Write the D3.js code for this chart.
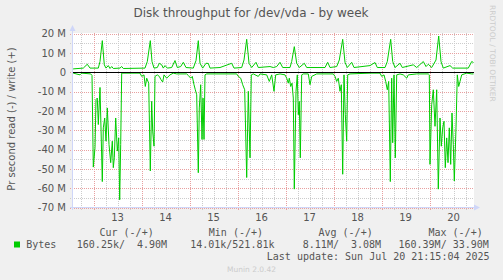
<!DOCTYPE html>
<html>
<head>
<meta charset="utf-8">
<script src="https://cdn.jsdelivr.net/npm/d3@7"></script>
<style>
    body { margin: 0; background: #f0f0f0; }
    svg { display: block; }
    text { font-family: "DejaVu Sans", sans-serif; fill: #555; }
    .mono { font-family: "DejaVu Sans Mono", monospace; font-size: 10px; white-space: pre; }
</style>
</head>
<body>
<svg id="chart" width="503" height="280"></svg>
<script>
// hours since Jul 12 2025 00:00, values in MB/s
const writeHours = [13.5, 13.9, 18.9, 20.9, 22.25, 26.4, 27.25, 28.4, 29.4, 30.25, 31.4, 32.25, 33.1, 33.9,
    37.25, 38.1, 38.9, 49.75, 50.9, 52.4, 53.25, 54.25, 55.9, 56.9, 58.1, 58.9, 59.75, 60.9, 63.1, 64.75,
    65.9, 67.6, 68.9, 70.25, 73.9, 75.25, 76.4, 77.25, 78.6, 80.25, 81.4, 82.25, 87.25, 93.1, 94.25, 98.1,
    99.25, 100.6, 101.75, 103.1, 105.25, 106.4, 112.25, 113.9, 115.6, 117.25, 118.6, 122.25, 123.1, 124.4,
    125.6, 126.9, 129.4, 130.6, 139.75, 141.1, 142.25, 145.6, 146.9, 148.6, 149.75, 150.9, 153.1, 154.25,
    162.25, 164.75, 165.9, 169.75, 170.9, 172.6, 173.6, 174.75, 177.25, 178.4, 183.9, 185.6, 188.9, 190.25,
    191.4, 193.1, 195.25, 196.6, 197.75, 198.9, 202.25, 203.6, 211.4, 213.1, 214];
const writeValues = [1.8, 1.7, 2.1, 4.1, 2.1, 2.1, 5.5, 16.3, 3.8, 2.1, 3.4, 1.9, 2.9, 1.9,
    2.1, 2.9, 1.9, 2.1, 5.5, 16.3, 5.5, 2.1, 2.4, 4.6, 3.8, 2.1, 3.4, 2.1, 2.4, 6.0,
    2.4, 2.9, 5.1, 2.4, 2.1, 6.0, 16.3, 4.6, 2.1, 4.6, 4.5, 2.1, 2.4, 4.6, 2.1, 2.4,
    6.3, 17.0, 4.6, 2.4, 5.1, 2.4, 2.9, 2.4, 2.9, 5.1, 2.4, 2.4, 5.5, 13.2,
    4.6, 2.4, 4.6, 2.4, 2.4, 5.1, 2.4, 2.9, 6.3, 17.0, 5.1, 2.4, 5.1, 2.4,
    3.4, 5.0, 2.4, 2.4, 5.5, 17.0, 5.5, 2.4, 4.6, 2.4, 3.8, 2.4, 5.5, 2.9,
    4.1, 2.4, 6.3, 18.7, 5.5, 2.1, 3.4, 2.1, 2.1, 5.5, 5.0];

const readHours = [13.5, 13.9, 17.25, 18.1, 22.6, 23.25, 23.9, 24.75, 25.25, 25.9, 26.4, 27.25, 28.4, 28.9,
    29.6, 30.25, 30.9, 31.75, 32.6, 33.4, 33.9, 34.4, 35.1, 35.9, 36.6, 37.1, 37.6, 38.1, 47.25, 48.1,
    49.25, 49.9, 50.6, 51.6, 52.4, 53.1, 53.6, 54.25, 54.75, 55.9, 56.9, 57.75, 58.6, 59.25, 60.6, 62.25,
    63.9, 65.6, 70.6, 71.4, 72.6, 73.4, 74.25, 74.9, 75.6, 76.4, 76.9, 77.6, 78.25, 78.75, 79.25, 79.75,
    80.6, 95.6, 96.4, 97.6, 98.6, 99.6, 100.6, 101.4, 102.25, 102.9, 103.9, 106.4, 107.25, 110.6, 111.9,
    113.1, 114.25, 115.1, 117.25, 119.75, 120.6, 121.4, 121.9, 122.6, 123.25, 123.9, 124.4, 125.25, 125.9,
    126.4, 126.9, 127.4, 128.1, 128.9, 131.4, 132.25, 133.1, 135.6, 143.9, 144.75, 145.6, 146.4, 147.25,
    147.9, 148.6, 149.25, 149.9, 150.6, 151.1, 152.25, 162.25, 167.25, 168.1, 169.25, 170.1, 170.9, 171.6,
    172.4, 173.1, 173.6, 174.25, 174.9, 175.6, 177.25, 178.9, 180.6, 181.4, 185.6, 191.4, 191.9, 192.25,
    193.1, 193.9, 194.75, 195.6, 196.4, 197.25, 197.9, 198.6, 199.25, 199.9, 200.6, 201.25, 201.9, 202.6,
    203.25, 203.9, 204.4, 205.25, 205.9, 206.6, 207.25, 208.1, 210.6, 213.1, 214];
const readValues = [0.5, 0.5, 1.4, 0.5, 0.9, 1.7, 49.1, 39.1, 14.2, 13.4, 27.1, 7.9, 56.6, 28.8,
    23.7, 35.7, 18.5, 37.4, 46.8, 35.7, 49.4, 44.3, 23.7, 40.8, 34.0, 66.0, 37.4, 0.5, 0.5, 2.2,
    1.4, 7.4, 3.1, 5.7, 51.1, 15.1, 30.5, 38.3, 2.2, 1.4, 2.2, 3.9, 5.1, 1.4, 3.1, 1.4,
    0.5, 0.9, 0.9, 1.7, 3.1, 2.2, 6.5, 9.1, 11.7, 52.0, 18.5, 6.5, 34.8, 13.4, 34.8, 1.4,
    0.9, 0.9, 2.2, 3.1, 6.5, 9.1, 54.5, 9.9, 44.3, 1.4, 0.9, 2.2, 0.9, 1.4, 4.8,
    1.4, 9.9, 1.4, 0.9, 1.4, 3.1, 5.7, 3.1, 7.4, 5.7, 13.4, 60.5, 9.9, 1.4,
    22.0, 15.1, 44.3, 1.4, 0.9, 0.9, 6.5, 2.2, 0.9, 0.9, 2.2, 4.8, 3.1, 9.9,
    6.5, 52.8, 1.4, 22.0, 35.7, 1.4, 0.9, 0.5, 0.5, 2.2, 1.4, 4.8, 9.1, 4.8,
    56.6, 3.1, 36.5, 1.4, 44.3, 1.4, 0.9, 1.4, 3.1, 1.4, 0.9, 0.9, 1.4, 47.7,
    16.8, 9.1, 28.0, 9.1, 60.5, 23.7, 38.3, 28.8, 25.4, 49.4, 34.0, 46.8, 28.8, 47.7,
    21.1, 37.4, 56.3, 28.8, 1.4, 7.4, 4.8, 1.4, 0.5, 0.9, 0.9];

const yTicks = [20, 10, 0, -10, -20, -30, -40, -50, -60, -70];
const legendHeaders = ["Cur (-/+)", "Min (-/+)", "Avg (-/+)", "Max (-/+)"];
const legendValues = ["160.25k/  4.90M", "14.01k/521.81k", "8.11M/  3.08M", "160.39M/ 33.90M"];

const svg = d3.select("#chart");
const day0 = new Date(2025, 6, 12).getTime();
const toDate = h => new Date(day0 + h * 3600e3);

const start = toDate(13.5);
const end = toDate(214);

const x = d3.scaleTime().domain([start, end]).range([72.5, 473.5]);
const y = d3.scaleLinear().domain([-70, 20]).range([207.5, 33.5]);

// canvas
svg.append("rect")
    .attr("x", 72).attr("y", 33)
    .attr("width", 402).attr("height", 175)
    .attr("fill", "#fff");

// minor grid
const minorY = d3.range(-65, 20, 10);
svg.selectAll(".minorY")
    .data(minorY)
    .enter()
    .append("line")
    .attr("x1", 70).attr("x2", 473)
    .attr("y1", d => Math.round(y(d)) + 0.5)
    .attr("y2", d => Math.round(y(d)) + 0.5)
    .attr("stroke", "#ccc")
    .attr("stroke-dasharray", "1,1");

const minorX = d3.timeHour.every(6).range(start, end).filter(d => d.getHours() !== 0);
svg.selectAll(".minorX")
    .data(minorX)
    .enter()
    .append("line")
    .attr("x1", d => Math.round(x(d)) + 0.5)
    .attr("x2", d => Math.round(x(d)) + 0.5)
    .attr("y1", 33).attr("y2", 210)
    .attr("stroke", "#ccc")
    .attr("stroke-dasharray", "1,1");

// major grid
svg.selectAll(".majorY")
    .data(yTicks)
    .enter()
    .append("line")
    .attr("x1", 70).attr("x2", 473)
    .attr("y1", d => Math.round(y(d)) + 0.5)
    .attr("y2", d => Math.round(y(d)) + 0.5)
    .attr("stroke", "#e8a0a0")
    .attr("stroke-dasharray", "1,1");

const days = d3.timeDay.range(start, end);
svg.selectAll(".majorX")
    .data(days)
    .enter()
    .append("line")
    .attr("x1", d => Math.round(x(d)) + 0.5)
    .attr("x2", d => Math.round(x(d)) + 0.5)
    .attr("y1", 33).attr("y2", 210)
    .attr("stroke", "#e8a0a0")
    .attr("stroke-dasharray", "1,1");

// data
const writeData = writeHours.map((h, i) => ({ t: toDate(h), v: writeValues[i] }));
const readData = readHours.map((h, i) => ({ t: toDate(h), v: -readValues[i] }));

const line = d3.line()
    .x(d => x(d.t))
    .y(d => y(d.v));

[readData, writeData].forEach(data => {
    svg.append("path")
        .datum(data)
        .attr("d", line)
        .attr("fill", "none")
        .attr("stroke", "#00cc00")
        .attr("stroke-width", 1);
});

// zero line
svg.append("line")
    .attr("x1", 72).attr("x2", 474)
    .attr("y1", Math.round(y(0)) + 0.5).attr("y2", Math.round(y(0)) + 0.5)
    .attr("stroke", "#000");

// axes + arrows
const axisColor = "#cfd6f8";
svg.append("line")
    .attr("x1", 72.5).attr("x2", 72.5)
    .attr("y1", 210).attr("y2", 30)
    .attr("stroke", axisColor);
svg.append("line")
    .attr("x1", 70).attr("x2", 476)
    .attr("y1", 207.5).attr("y2", 207.5)
    .attr("stroke", axisColor);
svg.append("path")
    .attr("d", "M69.5,31 L75.5,31 L72.5,25 Z")
    .attr("fill", axisColor);
svg.append("path")
    .attr("d", "M474,204.5 L474,210.5 L480,207.5 Z")
    .attr("fill", axisColor);

// y labels
svg.selectAll(".ylab")
    .data(yTicks)
    .enter()
    .append("text")
    .attr("x", 66)
    .attr("y", d => y(d) + 3.7)
    .attr("text-anchor", "end")
    .style("font-size", "10px")
    .text(d => d === 0 ? "0" : `${d} M`);

// x labels at noon
svg.selectAll(".xlab")
    .data(days.map(d => d3.timeHour.offset(d, 12)).filter(d => d < end))
    .enter()
    .append("text")
    .attr("x", d => x(d))
    .attr("y", 221)
    .attr("text-anchor", "middle")
    .style("font-size", "10px")
    .text(d3.timeFormat("%-d"));

// title
svg.append("text")
    .attr("x", 251).attr("y", 17)
    .attr("text-anchor", "middle")
    .style("font-size", "12px")
    .text("Disk throughput for /dev/vda - by week");

svg.append("text")
    .attr("transform", "translate(14.5,119) rotate(-90)")
    .attr("text-anchor", "middle")
    .style("font-size", "10px")
    .text("Pr second read (-) / write (+)");

svg.append("text")
    .attr("transform", "translate(490,5) rotate(90)")
    .style("font-size", "7.5px")
    .style("fill", "#ccc")
    .text("RRDTOOL / TOBI OETIKER");

// legend
const headerX = [99.5, 208.8, 318.5, 428.5];
const valueX = [76.8, 190.2, 302.8, 398.5];

svg.selectAll(".lhead")
    .data(legendHeaders)
    .enter()
    .append("text")
    .attr("class", "mono")
    .attr("x", (d, i) => headerX[i])
    .attr("y", 235.5)
    .text(d => d);

svg.append("rect")
    .attr("x", 14).attr("y", 241.5)
    .attr("width", 6).attr("height", 6)
    .attr("fill", "#00cc00");

svg.append("text")
    .attr("class", "mono")
    .attr("x", 26.2).attr("y", 247.5)
    .text("Bytes");

svg.selectAll(".lval")
    .data(legendValues)
    .enter()
    .append("text")
    .attr("class", "mono")
    .attr("x", (d, i) => valueX[i])
    .attr("y", 247.5)
    .text(d => d);

svg.append("text")
    .attr("class", "mono")
    .attr("x", 266.8).attr("y", 259.5)
    .text("Last update: Sun Jul 20 21:15:04 2025");

svg.append("text")
    .attr("x", 251.5).attr("y", 272)
    .attr("text-anchor", "middle")
    .style("font-size", "7.5px")
    .style("fill", "#ccc")
    .text("Munin 2.0.42");
</script>
</body>
</html>
